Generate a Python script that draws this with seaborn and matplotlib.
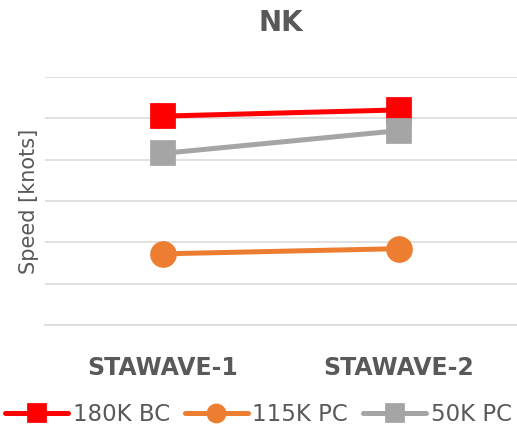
import matplotlib
matplotlib.use("Agg")
import matplotlib.pyplot as plt
import seaborn as sns
import pandas as pd

# Average speed per vessel type for the two STAWAVE corrections
categories = ["STAWAVE-1", "STAWAVE-2"]
series_names = ["180K BC", "115K PC", "50K PC"]
speed_180k_bc = [10.1, 10.4]
speed_115k_pc = [3.45, 3.7]
speed_50k_pc = [8.3, 9.4]
colors = ["#FF0000", "#ED7D31", "#A5A5A5"]
markers = ["s", "o", "s"]

df = pd.DataFrame({
    "case": categories * 3,
    "vessel": [n for n in series_names for _ in categories],
    "speed": speed_180k_bc + speed_115k_pc + speed_50k_pc,
})

sns.set_theme(style="white")
plt.rcParams["font.family"] = ["DejaVu Sans"]

fig = plt.figure(figsize=(5.17, 4.30), dpi=100)
ax = fig.add_axes([0.087, 0.2435, 0.913, 0.578])

sns.pointplot(
    data=df, x="case", y="speed", hue="vessel", order=categories,
    hue_order=series_names, palette=colors, markers=markers,
    linestyles="-", errorbar=None, ax=ax, markersize=16.5, linewidth=3.6,
)

ax.set_xlim(-0.5, 1.5)
ax.set_ylim(0, 12)
ax.set_yticks(range(0, 13, 2))
ax.yaxis.grid(True, color="#D9D9D9", linewidth=1.1)
ax.set_axisbelow(True)
ax.tick_params(axis="y", length=0, labelleft=False)
ax.tick_params(axis="x", length=0, pad=22)
for s in ["left", "right", "top"]:
    ax.spines[s].set_visible(False)
ax.spines["bottom"].set_color("#D9D9D9")
ax.spines["bottom"].set_linewidth(1.1)

for lbl in ax.get_xticklabels():
    lbl.set_fontsize(17)
    lbl.set_fontweight("bold")
    lbl.set_color("#595959")

ax.set_xlabel("")
ax.set_ylabel("Speed [knots]", fontsize=15, color="#595959", labelpad=4)
ax.set_title("NK", fontsize=20, fontweight="bold", color="#595959", pad=33)

handles, labels = ax.get_legend_handles_labels()
ax.get_legend().remove()
fig.legend(
    handles, labels, loc="center", bbox_to_anchor=(0.5, 0.035),
    ncol=3, frameon=False, fontsize=16.5, labelcolor="#595959",
    handlelength=2.75, handletextpad=0.2, columnspacing=0.65,
    markerscale=0.7,
)

fig.savefig("out.png", dpi=100)
